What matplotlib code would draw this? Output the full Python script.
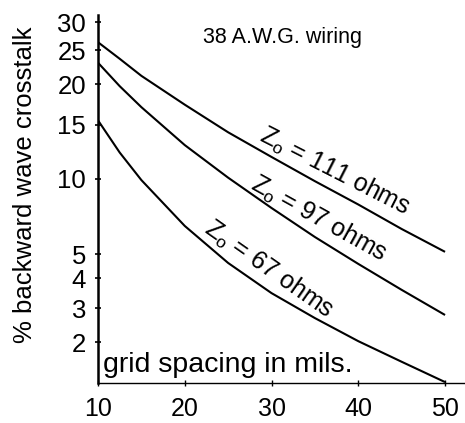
#! /usr/bin/env python3

import numpy as np
import matplotlib
matplotlib.use("Agg")
from matplotlib import pyplot as plt

plt.rcParams['font.family'] = ['Liberation Sans', 'DejaVu Sans']
plt.rcParams['mathtext.fontset'] = 'custom'
plt.rcParams['mathtext.rm'] = 'Liberation Sans'
plt.rcParams['mathtext.it'] = 'Liberation Sans'

# grid spacing in mils
spacing   = [10, 12.5, 15, 20, 25, 30, 35, 40, 45, 50]

# % backward wave crosstalk for each line impedance
xtalk_111 = [26.3, 23.6, 21.1, 17.3, 14.2, 11.8, 9.8, 7.9, 6.3, 5.1]
xtalk_97  = [23.0, 19.7, 17.0, 12.9, 10.1, 7.65, 5.85, 4.56, 3.57, 2.76]
xtalk_67  = [15.5, 12.2, 9.9, 6.48, 4.6, 3.46, 2.66, 2.02, 1.58, 1.24]

labels    = ["111", "97", "67"]

x_ticks   = [10, 20, 30, 40, 50]
y_ticks   = [2, 3, 4, 5, 10, 15, 20, 25, 30]

# the printed y axis is not a clean log axis: tick heights (px above x axis)
y_tick_pos = [41, 75, 105, 129, 204, 258, 299, 333, 361]

lt = np.log10(y_ticks)
pt = np.array(y_tick_pos, dtype=float)
s_lo = (pt[1] - pt[0]) / (lt[1] - lt[0])
s_hi = (pt[-1] - pt[-2]) / (lt[-1] - lt[-2])

def fwd(v):
    lv = np.log10(np.clip(np.asarray(v, dtype=float), 1e-9, None))
    out = np.interp(lv, lt, pt)
    out = np.where(lv < lt[0], pt[0] + (lv - lt[0]) * s_lo, out)
    out = np.where(lv > lt[-1], pt[-1] + (lv - lt[-1]) * s_hi, out)
    return out

def inv(p):
    p = np.asarray(p, dtype=float)
    out = np.interp(p, pt, lt)
    out = np.where(p < pt[0], lt[0] + (p - pt[0]) / s_lo, out)
    out = np.where(p > pt[-1], lt[-1] + (p - pt[-1]) / s_hi, out)
    return 10 ** out

fig = plt.figure(figsize=(4.65, 4.23), dpi=100)
ax = fig.add_axes([98/465, 40/423, 367/465, 368/423])

ax.set_yscale('function', functions=(fwd, inv))

for ys in (xtalk_111, xtalk_97, xtalk_67):
    ax.plot(spacing, ys, color='black', lw=1.5, solid_capstyle='butt',
            solid_joinstyle='round')

ax.set_xlim(10, 52.3)
ax.set_ylim(float(inv(0)), float(inv(368)))

ax.set_xticks(x_ticks)
ax.set_xticklabels([str(t) for t in x_ticks])
ax.set_yticks(y_ticks)
ax.set_yticklabels([str(t) for t in y_ticks])
ax.minorticks_off()

for side in ('top', 'right'):
    ax.spines[side].set_visible(False)
ax.spines['left'].set_linewidth(1.8)
ax.spines['bottom'].set_linewidth(1.0)

ax.tick_params(axis='y', direction='inout', length=5, width=1.2, pad=6, labelsize=18.5)
ax.tick_params(axis='x', direction='inout', length=4, width=1.0, pad=8, labelsize=18)

ax.set_ylabel("% backward wave crosstalk", fontsize=18.5)
ax.yaxis.set_label_coords(-0.165, 0.538)

ax.text(0.286, 0.94, "38 A.W.G. wiring", transform=ax.transAxes,
        ha='left', va='center', fontsize=15.5)
ax.text(0.014, 0.03, "grid spacing in mils.", transform=ax.transAxes,
        ha='left', va='baseline', fontsize=20.5)

# curve labels, written along each curve
lab_xy  = [(0.646, 0.574), (0.602, 0.446), (0.466, 0.31)]
lab_rot = [-27, -29, -35]
for name, (lx, ly), r in zip(labels, lab_xy, lab_rot):
    ax.text(lx, ly, r"Z$_\mathrm{o}$ = %s ohms" % name, transform=ax.transAxes,
            ha='center', va='center', rotation=r, rotation_mode='anchor',
            fontsize=18)

plt.savefig("out.png", dpi=100)
